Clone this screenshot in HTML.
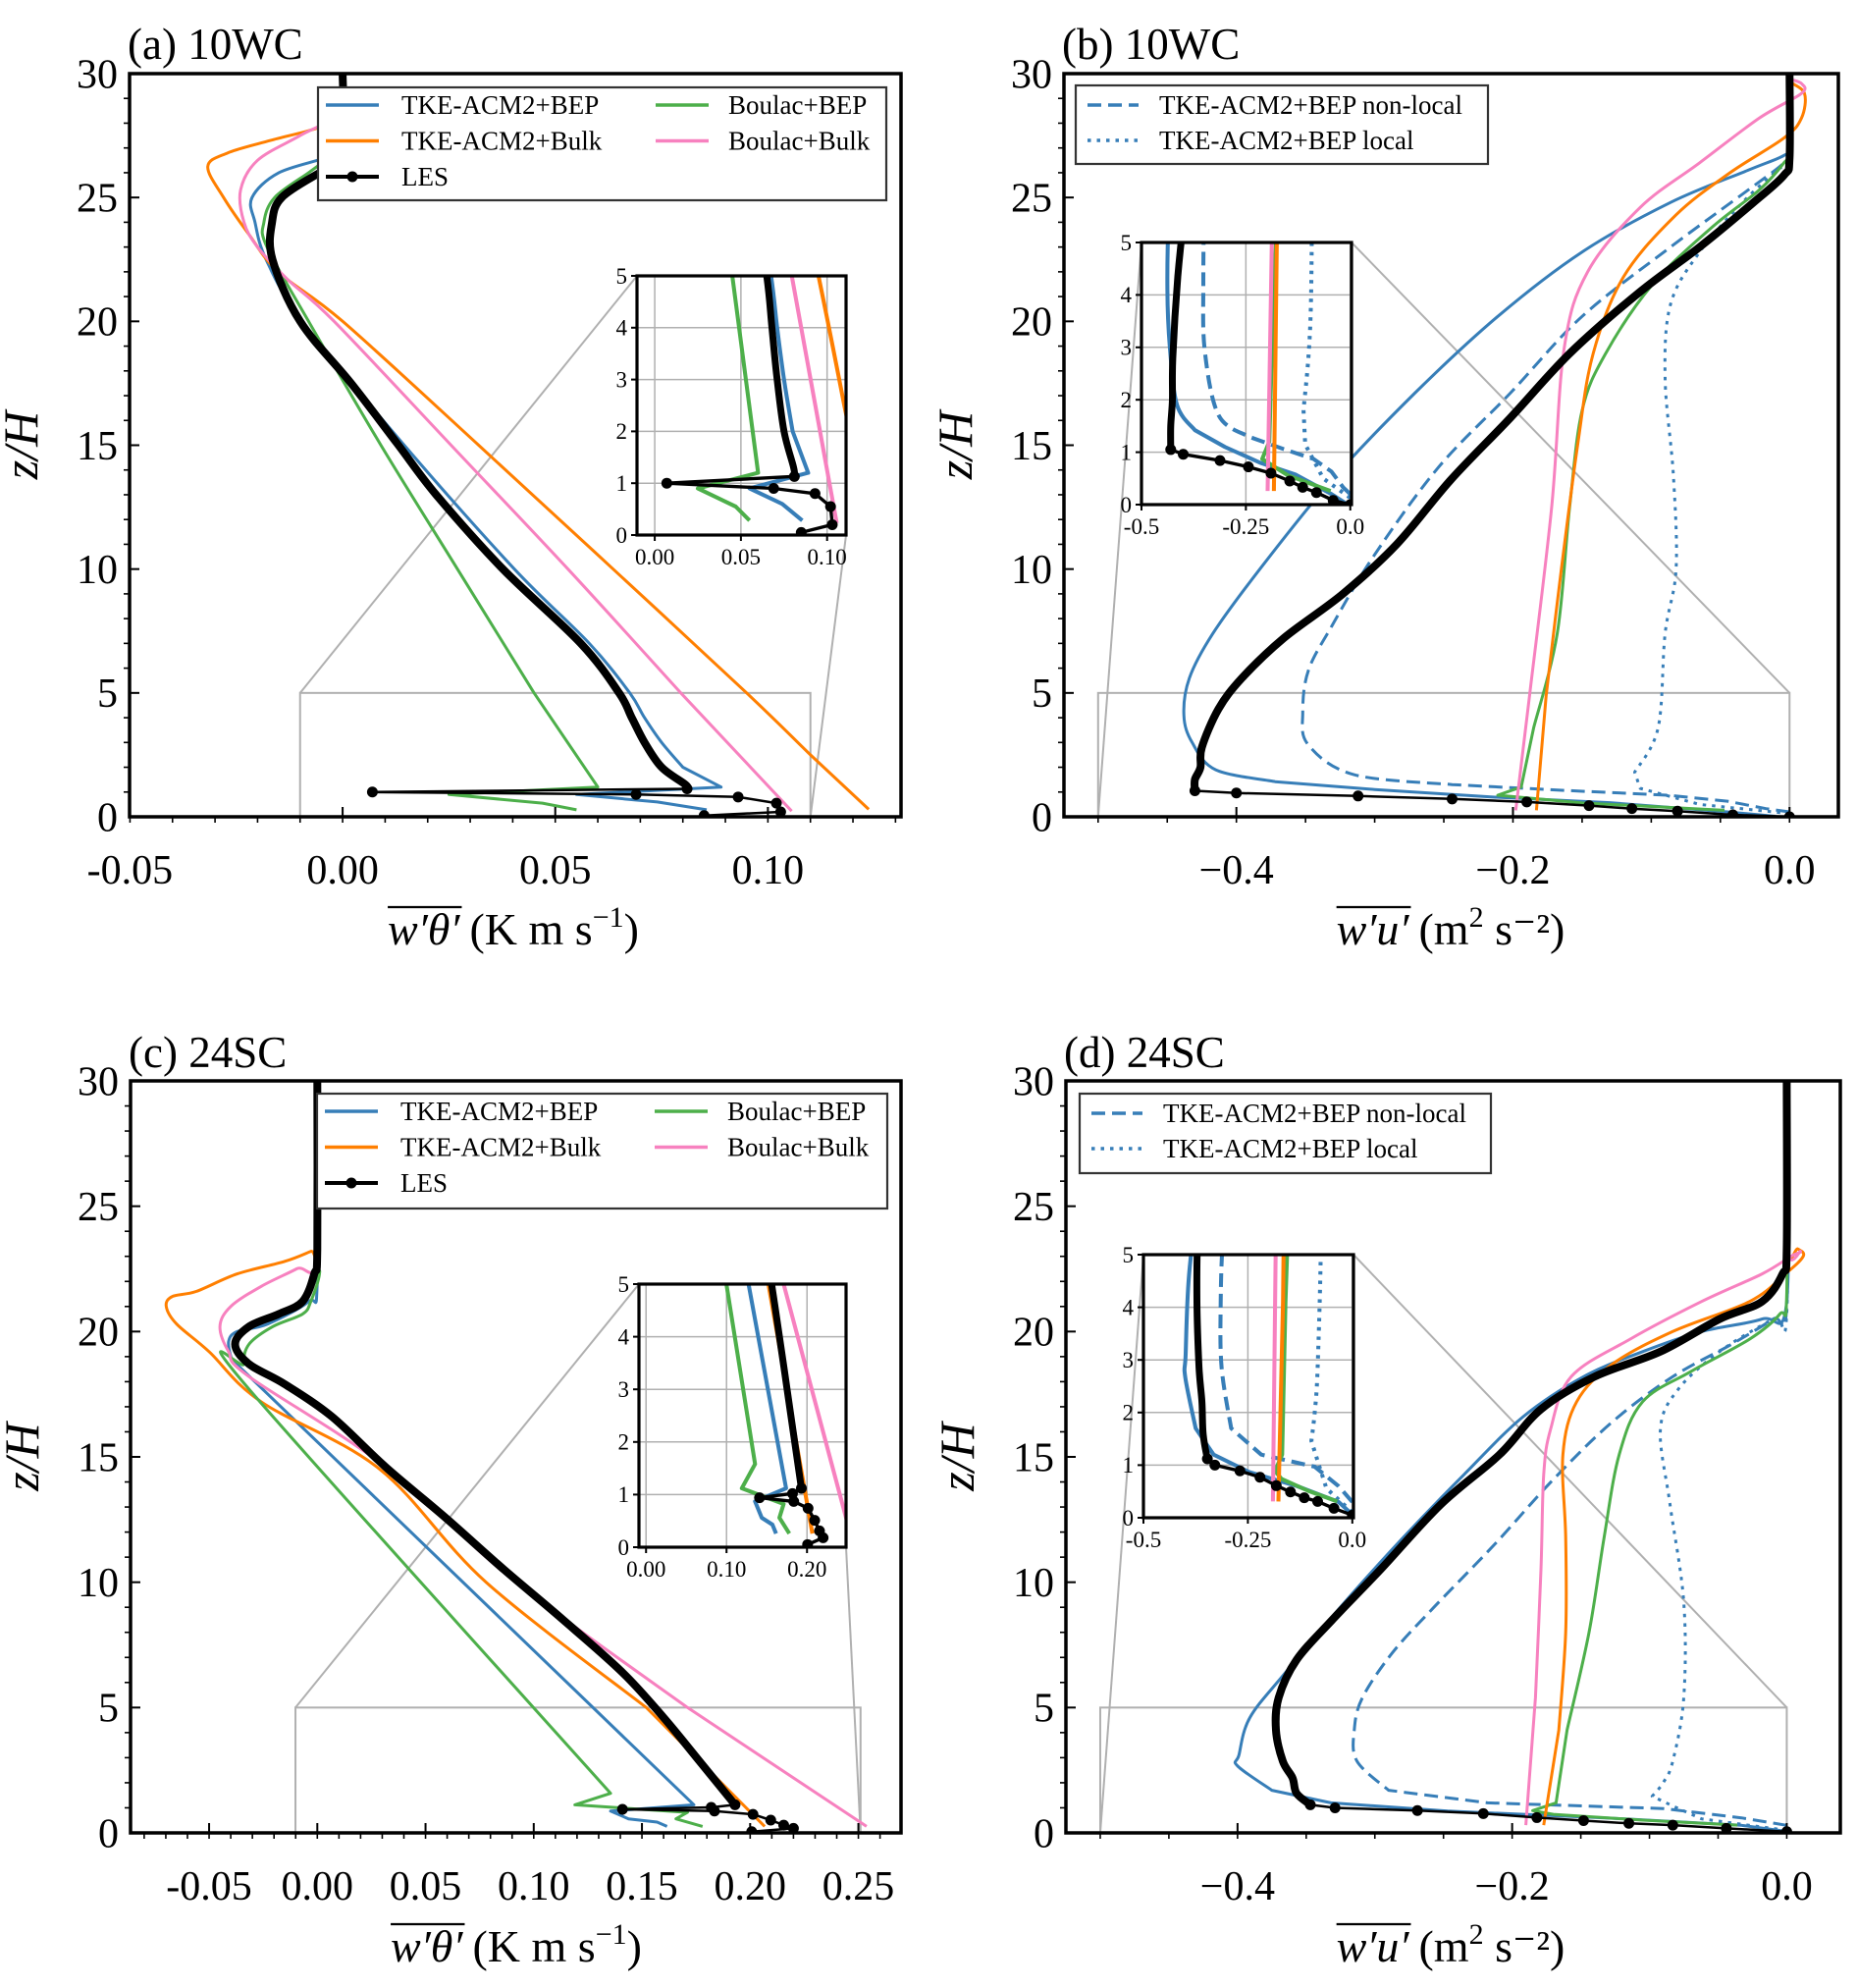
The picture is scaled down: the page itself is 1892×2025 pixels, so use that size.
<!DOCTYPE html>
<html><head><meta charset="utf-8"><style>
html,body{margin:0;padding:0;background:#fff;}
svg{display:block;font-family:"Liberation Serif",serif;}
</style></head><body>
<svg id="fig" xmlns="http://www.w3.org/2000/svg" width="1892" height="2025" viewBox="0 0 1892 2025">
<rect x="0" y="0" width="1892" height="2025" fill="#fff"/>
</svg>
<script>
// ---------- Panel (a) 10WC heat flux ----------
const aLesZ=[0.05,0.2,0.55,0.8,0.9,1.0,1.13,1.3,2,3,4,5,7,10,13,15.1,17.5,20,22.5,24,25,26,26.5,30];
const aLesX=[0.085,0.103,0.102,0.093,0.069,0.007,0.081,0.0806,0.075,0.071,0.068,0.065,0.056,0.0377,0.022,0.0127,0.002,-0.010,-0.0165,-0.0166,-0.0143,-0.0054,0,0];
const aBlueZ=[0.28,0.6,0.9,1.2,2,3,4,5,7,10,15.1,20,22.5,24,25,26,26.7,27.3,30];
const aBlueX=[0.0856,0.074,0.055,0.089,0.080,0.075,0.071,0.0675,0.058,0.0404,0.014,-0.0095,-0.018,-0.0206,-0.0213,-0.015,-0.0026,0,0];
const aOrangeZ=[0.3,2.5,5,10,15,20,21.97,23.5,25,26.25,26.8,27.3,27.8,28.3,30];
const aOrangeX=[0.1237,0.110,0.095,0.0636,0.032,0.0,-0.015,-0.022,-0.028,-0.0317,-0.027,-0.017,-0.006,0,0];
const aPinkZ=[0.23,5,10,15,20,21.7,23,24,25.3,26.5,27.5,28.5,30];
const aPinkX=[0.1056,0.0795,0.053,0.0255,-0.002,-0.013,-0.020,-0.0232,-0.024,-0.020,-0.010,0,0];
const aGreenZ=[0.28,0.55,0.9,1.2,5,10,15,20,23,24,25,26,26.5,27,30];
const aGreenX=[0.055,0.047,0.025,0.060,0.045,0.027,0.009,-0.008,-0.0178,-0.0185,-0.016,-0.008,-0.004,0,0];
// ---------- Panel (b) 10WC momentum flux ----------
const bLesZ=[0,0.08,0.23,0.33,0.45,0.6,0.72,0.84,0.96,1.05,1.5,2,2.8,4.35,5.6,7.2,9,11,13.6,16.1,18.7,21.2,23,24.8,25.9,26.6,30];
const bLesX=[0,-0.041,-0.081,-0.114,-0.145,-0.19,-0.244,-0.312,-0.40,-0.43,-0.43,-0.426,-0.425,-0.413,-0.396,-0.366,-0.323,-0.284,-0.245,-0.202,-0.159,-0.108,-0.065,-0.026,-0.004,0,0];
const bBlueZ=[0.02,0.2,0.57,0.8,1.1,1.42,1.9,3,4.1,5.6,7.4,10,13.6,17.1,20.2,22.8,24.8,26.1,26.7,27.1,30];
const bBlueX=[-0.01,-0.045,-0.13,-0.216,-0.30,-0.372,-0.415,-0.432,-0.438,-0.434,-0.417,-0.383,-0.331,-0.271,-0.211,-0.15,-0.086,-0.03,-0.004,0,0];
const bNonlocalZ=[0.2,0.33,0.63,0.87,1.06,1.3,1.7,2.9,4.2,5.9,7.7,10.5,14.1,17.1,20.2,23,25.3,26.4,26.9,30];
const bNonlocalX=[0,-0.017,-0.045,-0.088,-0.16,-0.244,-0.315,-0.348,-0.352,-0.348,-0.331,-0.301,-0.254,-0.202,-0.15,-0.086,-0.03,-0.004,0,0];
const bLocalZ=[0.13,0.5,1.15,1.8,3.6,7.4,10,13.8,17.7,20.7,22.8,24.8,26.1,26.6,30];
const bLocalX=[0,-0.065,-0.108,-0.112,-0.095,-0.09,-0.082,-0.084,-0.09,-0.086,-0.065,-0.034,-0.009,0,0];
const bGreenZ=[0.26,0.56,0.87,1.2,3.6,7.4,12.5,16.4,18.7,21.5,23.8,25.3,26.4,26.9,30];
const bGreenX=[-0.047,-0.15,-0.211,-0.194,-0.185,-0.168,-0.159,-0.15,-0.133,-0.099,-0.056,-0.022,-0.004,0,0];
const bOrangeZ=[0.26,4.9,10,15.1,18.7,21.8,24.3,26,27.4,28.2,29.2,29.7,30];
const bOrangeX=[-0.183,-0.176,-0.165,-0.153,-0.142,-0.12,-0.082,-0.043,-0.004,0.0086,0.0108,0,0];
const bPinkZ=[0.26,4.9,12.5,18.9,22,24.6,26.4,28.2,29.2,29.6,29.8,30];
const bPinkX=[-0.198,-0.188,-0.172,-0.163,-0.146,-0.108,-0.065,-0.022,0.0086,0.0086,0,0];
// ---------- Panel (c) 24SC heat flux ----------
const cLesZ=[0.05,0.18,0.31,0.51,0.74,0.87,0.94,1.02,1.12,2.86,4.6,6.4,8.5,10.5,12.6,14.6,16.6,17.9,18.7,19.5,20.2,20.7,21.2,22.3,23.3,30];
const cLesX=[0.2007,0.22,0.2155,0.2095,0.2013,0.1835,0.141,0.182,0.193,0.1766,0.16,0.141,0.1136,0.0863,0.0589,0.0315,0.0068,-0.015,-0.0315,-0.038,-0.0315,-0.0178,-0.0068,-0.0014,0,0];
const cBlueZ=[0.26,0.43,0.56,0.87,1.12,18.9,19.6,20.0,20.3,21.2,22,30];
const cBlueX=[0.1616,0.157,0.1438,0.1355,0.174,-0.0397,-0.041,-0.037,-0.023,-0.004,0,0];
const cOrangeZ=[0.26,5,10,14.5,17.2,19.2,20.3,21,21.4,21.6,22.3,22.8,23.2,23.3,30];
const cOrangeX=[0.2067,0.152,0.078,0.029,-0.026,-0.05,-0.065,-0.0698,-0.067,-0.056,-0.037,-0.015,-0.003,0,0];
const cPinkZ=[0.26,5,10,14.6,18.2,19.2,20.2,21,21.8,22.5,23,30];
const cPinkX=[0.2538,0.171,0.0917,0.0315,-0.0315,-0.041,-0.045,-0.04,-0.026,-0.0096,0,0];
const cGreenZ=[0.26,0.56,0.82,1.12,1.58,17.7,18.7,19.5,20.2,20.7,21.2,22.3,23.3,30];
const cGreenX=[0.178,0.1657,0.171,0.119,0.1355,-0.0315,-0.034,-0.0315,-0.0205,-0.0068,-0.003,0.001,0,0];
// ---------- Panel (d) 24SC momentum flux ----------
const dLesZ=[0.05,0.18,0.31,0.38,0.49,0.61,0.77,0.89,1.0,1.12,1.58,2.2,2.86,4.1,5.4,6.9,8.5,10.5,13.1,15.1,16.9,18.2,19.2,20.5,21.2,22.3,23.3,30];
const dLesX=[0,-0.044,-0.083,-0.115,-0.148,-0.182,-0.221,-0.269,-0.329,-0.347,-0.357,-0.36,-0.367,-0.372,-0.37,-0.357,-0.331,-0.296,-0.252,-0.209,-0.179,-0.14,-0.092,-0.049,-0.018,-0.003,0,0];
const dBlueZ=[0.06,0.3,0.6,0.87,1.2,1.7,2.67,3.1,4.6,6.4,9.2,11.8,14.3,16.6,18.2,19.2,20.0,20.5,21.2,30];
const dBlueX=[0,-0.033,-0.132,-0.247,-0.332,-0.375,-0.4,-0.399,-0.391,-0.365,-0.322,-0.279,-0.235,-0.192,-0.148,-0.105,-0.062,-0.018,0,0];
const dNonlocalZ=[0.3,0.6,0.97,1.2,1.7,2.86,4.1,5.4,7.2,9.0,11.5,14.1,16.4,18.2,19.5,20.5,21,30];
const dNonlocalX=[0,-0.033,-0.09,-0.218,-0.29,-0.313,-0.315,-0.309,-0.287,-0.257,-0.213,-0.17,-0.127,-0.083,-0.04,-0.01,0,0];
const dLocalZ=[0.1,0.56,1.0,1.46,2.0,2.86,5.4,9.2,13.1,16.1,17.7,19.2,20.5,20.7,30];
const dLocalX=[0,-0.062,-0.08,-0.098,-0.09,-0.083,-0.075,-0.075,-0.085,-0.092,-0.079,-0.049,-0.01,0,0];
const dGreenZ=[0.31,0.51,0.74,0.89,1.2,4.1,8.0,11.8,15.1,17.2,18.4,19.7,20.7,21.5,30];
const dGreenX=[-0.036,-0.105,-0.17,-0.185,-0.168,-0.16,-0.144,-0.133,-0.122,-0.105,-0.07,-0.027,-0.005,0,0];
const dOrangeZ=[0.31,4.1,8.0,11.8,15.1,17.2,18.7,20.0,21.2,22.3,23.0,23.3,23.4,30];
const dOrangeX=[-0.177,-0.166,-0.161,-0.161,-0.163,-0.153,-0.127,-0.083,-0.027,-0.001,0.012,0.008,0,0];
const dPinkZ=[0.31,5.4,10.5,14.3,16.1,18.2,19.7,21.2,22.3,23.0,23.2,23.4,30];
const dPinkX=[-0.19,-0.183,-0.179,-0.177,-0.172,-0.157,-0.114,-0.062,-0.018,0.003,0.01,0,0];
// ---------- tick labels ----------
const aTickVals=[-0.05,0,0.05,0.10];
const aTickLabels=["-0.05","0.00","0.05","0.10"];
const cTickVals=[-0.05,0,0.05,0.10,0.15,0.20,0.25];
const cTickLabels=["-0.05","0.00","0.05","0.10","0.15","0.20","0.25"];
const bdTickVals=[-0.4,-0.2,0.0];
const bdTickLabels=["\u22120.4","\u22120.2","0.0"];
const zTickVals=[0,5,10,15,20,25,30];
const zTickLabels=["0","5","10","15","20","25","30"];
const inAVals=[0,0.05,0.10], inALabels=["0.00","0.05","0.10"];
const inCVals=[0,0.10,0.20], inCLabels=["0.00","0.10","0.20"];
const inBDVals=[-0.5,-0.25,0.0], inBDLabels=["-0.5","-0.25","0.0"];
const inZVals=[0,1,2,3,4,5], inZLabels=["0","1","2","3","4","5"];

const C={blue:"#377eb8",orange:"#ff7f00",green:"#4daf4a",pink:"#f781bf",black:"#000"};
const NS="http://www.w3.org/2000/svg";
const svg=document.getElementById('fig');
function el(tag,attrs,parent){const e=document.createElementNS(NS,tag);for(const k in attrs)e.setAttribute(k,attrs[k]);(parent||svg).appendChild(e);return e;}
let clipN=0;
function makeAx(L,R,T,B,x0,x1,z0,z1){
  return {L,R,T,B,sx:v=>L+(v-x0)/(x1-x0)*(R-L),sz:z=>B-(z-z0)/(z1-z0)*(B-T)};
}
function clipFor(ax){
  const id='clip'+(clipN++);
  const cp=el('clipPath',{id});
  el('rect',{x:ax.L,y:ax.T,width:ax.R-ax.L,height:ax.B-ax.T},cp);
  return id;
}
// smooth path: cubic (Catmull-Rom) between points with z>=ZS, straight otherwise
const ZS=1.3;
function smoothPath(P,Z){
  let d='M'+P[0][0].toFixed(1)+','+P[0][1].toFixed(1);
  for(let i=0;i<P.length-1;i++){
    const a=P[i],b=P[i+1];
    if(Z[i]>=ZS&&Z[i+1]>=ZS){
      const p0=(i>0&&Z[i-1]>=ZS)?P[i-1]:a;
      const p3=(i+2<P.length)?P[i+2]:b;
      const c1=[a[0]+(b[0]-p0[0])/6,a[1]+(b[1]-p0[1])/6];
      const c2=[b[0]-(p3[0]-a[0])/6,b[1]-(p3[1]-a[1])/6];
      d+=' C'+c1[0].toFixed(1)+','+c1[1].toFixed(1)+' '+c2[0].toFixed(1)+','+c2[1].toFixed(1)+' '+b[0].toFixed(1)+','+b[1].toFixed(1);
    } else d+=' L'+b[0].toFixed(1)+','+b[1].toFixed(1);
  }
  return d;
}
function drawSeries(ax,g,X,Z,color,w,dash,name,isLes,thick){
  const P=X.map((v,i)=>[ax.sx(v),ax.sz(Z[i])]);
  const p=el('path',{d:smoothPath(P,Z),fill:'none',stroke:color,'stroke-width':w,'stroke-linejoin':'round'},g);
  if(dash)p.setAttribute('stroke-dasharray',dash);
  
  
  if(isLes){
    const UP=[],UZ=[];X.forEach((v,i)=>{if(Z[i]>=1.05){UP.push(P[i]);UZ.push(Z[i]);}});
    const t=el('path',{d:smoothPath(UP,UZ.map(z=>z<ZS?ZS:z)),fill:'none',stroke:'#000','stroke-width':thick,'stroke-linejoin':'round','stroke-linecap':'round'},g);
    
    
    X.forEach((v,i)=>{if(Z[i]<1.2){const c=el('circle',{cx:ax.sx(v),cy:ax.sz(Z[i]),r:5.5,fill:'#000'},g);
      
      }});
  }
}
function drawAll(ax,series,scale){
  const g=el('g',{'clip-path':'url(#'+clipFor(ax)+')'});
  
  
  series.forEach(s=>drawSeries(ax,g,s.x,s.z,s.c,s.w*scale,s.d,s.n,s.les,s.les?(scale>1?7:8):0));
}
function frame(ax,w,name){
  const r=el('rect',{x:ax.L,y:ax.T,width:ax.R-ax.L,height:ax.B-ax.T,fill:'none',stroke:'#000','stroke-width':w});
  
  
}
function ticks(ax,xv,xl,xminor,fs,labY,isInset){
  xv.forEach((v,i)=>{
    const x=ax.sx(v);
    el('line',{x1:x,x2:x,y1:ax.B,y2:ax.B-(isInset?0:10),stroke:'#000','stroke-width':2});
    if(isInset) el('line',{x1:x,x2:x,y1:ax.B,y2:ax.B+6,stroke:'#000','stroke-width':2});
    const t=el('text',{x:x,y:labY,'font-size':fs,'text-anchor':'middle',fill:'#000'});
    t.textContent=xl[i];
    
    
  });
  if(xminor) xminor.forEach(v=>{const x=ax.sx(v);el('line',{x1:x,x2:x,y1:ax.B,y2:ax.B+6,stroke:'#000','stroke-width':1.6});});
}
function zticks(ax,zv,zl,fs,isInset,minor){
  zv.forEach((v,i)=>{
    const y=ax.sz(v);
    if(isInset) el('line',{x1:ax.L-6,x2:ax.L,y1:y,y2:y,stroke:'#000','stroke-width':2});
    else el('line',{x1:ax.L,x2:ax.L+10,y1:y,y2:y,stroke:'#000','stroke-width':2});
    const t=el('text',{x:ax.L-(isInset?10:12),y:y+fs*0.34,'font-size':fs,'text-anchor':'end',fill:'#000'});
    t.textContent=zl[i];
    
    
  });
  if(minor) for(let z=0;z<=30;z++){ if(z%5){const y=ax.sz(z);el('line',{x1:ax.L-6,x2:ax.L,y1:y,y2:y,stroke:'#000','stroke-width':1.6});}}
}
function grid(ax,xv,zv){
  xv.forEach(v=>el('line',{x1:ax.sx(v),x2:ax.sx(v),y1:ax.T,y2:ax.B,stroke:'#b0b0b0','stroke-width':1.5}));
  zv.forEach(v=>el('line',{x1:ax.L,x2:ax.R,y1:ax.sz(v),y2:ax.sz(v),stroke:'#b0b0b0','stroke-width':1.5}));
}
function range(a,b,s){const r=[];for(let v=a;v<=b+1e-9;v+=s)r.push(+v.toFixed(4));return r;}
function textAt(x,y,fs,str,name,extra){
  const t=el('text',Object.assign({x,y,'font-size':fs,fill:'#000'},extra||{}));
  t.textContent=str;
  
  
  return t;
}
function xlabel(cx,cy,sym,unitMain,sup,tail,name){
  const g=el('g',{});
  
  
  const t1=el('text',{x:0,y:cy,'font-size':46,'font-style':'italic'},g);t1.textContent=sym;
  const w1=t1.getComputedTextLength();
  el('line',{x1:0,x2:w1+2,y1:cy-38,y2:cy-38,stroke:'#000','stroke-width':2.2},g);
  const t2=el('text',{x:w1+10,y:cy,'font-size':46},g);
  t2.appendChild(document.createTextNode(unitMain));
  const s=el('tspan',{dy:-18,'font-size':30},t2);s.textContent=sup;
  const s2=el('tspan',{dy:18,'font-size':46},t2);s2.textContent=tail;
  const w=w1+10+t2.getComputedTextLength();
  g.setAttribute('transform','translate('+(cx-w/2)+',0)');
}
function ylabel(cx,cy){
  const t=el('text',{x:0,y:0,'font-size':50,'font-style':'italic','text-anchor':'middle',transform:'translate('+(cx+16)+','+cy+') rotate(-90)'});
  t.textContent='z/H';
  
  
}
function legendHeat(bx,by,bw,bh,dy){
  const g=el('g',{});
  
  
  el('rect',{x:bx,y:by,width:bw,height:bh,fill:'#fff',stroke:'#333','stroke-width':2.2},g);
  const items=[[C.blue,'TKE-ACM2+BEP',0,0],[C.orange,'TKE-ACM2+Bulk',0,1],[C.black,'LES',0,2],[C.green,'Boulac+BEP',1,0],[C.pink,'Boulac+Bulk',1,1]];
  items.forEach(it=>{
    const hx=it[2]?bx+344:bx+8, tx=it[2]?bx+418:bx+85, y=by+18+it[3]*dy;
    const e=el('g',{},g);
    
    
    el('line',{x1:hx,x2:hx+54,y1:y,y2:y,stroke:it[0],'stroke-width':it[0]===C.black?4:3.5},e);
    if(it[0]===C.black)el('circle',{cx:hx+27,cy:y,r:5.5,fill:'#000'},e);
    const t=el('text',{x:tx,y:y+9,'font-size':27},e);t.textContent=it[1];
  });
}
function legendFlux(bx,by,bw,bh,dy){
  const g=el('g',{});
  
  
  el('rect',{x:bx,y:by,width:bw,height:bh,fill:'#fff',stroke:'#333','stroke-width':2.2},g);
  [['14 7','TKE-ACM2+BEP non-local'],['3.5 6','TKE-ACM2+BEP local']].forEach((it,i)=>{
    const y=by+20+i*dy;
    const e=el('g',{},g);
    
    
    el('line',{x1:bx+12,x2:bx+64,y1:y,y2:y,stroke:C.blue,'stroke-width':3.5,'stroke-dasharray':it[0]},e);
    const t=el('text',{x:bx+85,y:y+9,'font-size':27},e);t.textContent=it[1];
  });
}
function connector(p1,p2){el('line',{x1:p1[0],y1:p1[1],x2:p2[0],y2:p2[1],stroke:'#b0b0b0','stroke-width':2});}

function heatSeries(les,bl,bx,or,ox,pk,px,gr,gx){return [
  {x:bx,z:bl,c:C.blue,w:3,n:'tke-acm2-bep-line'},
  {x:ox,z:or,c:C.orange,w:3,n:'tke-acm2-bulk-line'},
  {x:gx,z:gr,c:C.green,w:3,n:'boulac-bep-line'},
  {x:px,z:pk,c:C.pink,w:3,n:'boulac-bulk-line'},
  {x:les[1],z:les[0],c:'#000',w:2.5,n:'les-line',les:true}];}

function buildPanel(P){
  const ax=makeAx(P.L,P.R,P.T,P.B,P.x0,P.x1,0,30);
  const ia=makeAx(P.iL,P.iR,P.iT,P.iB,P.ix0,P.ix1,0,5);
  const bx0=ax.sx(P.box[0]),bx1=ax.sx(P.box[1]),by0=ax.sz(5),by1=ax.sz(0);
  const zb=el('rect',{x:bx0,y:by0,width:bx1-bx0,height:by1-by0,fill:'none',stroke:'#b0b0b0','stroke-width':2});
  
  
  if(P.heat){connector([bx0,by0],[ia.L,ia.T]);connector([bx1,by1],[ia.R,ia.B]);}
  else{connector([bx0,by1],[ia.L,ia.T]);connector([bx1,by0],[ia.R,ia.T]);}
  drawAll(ax,P.series,1);
  frame(ax,3.5,'axes-frame');
  ticks(ax,P.tv,P.tl,P.minor,42,P.B+68,false);
  zticks(ax,zTickVals,zTickLabels,42,false,true);
  const ib=el('rect',{x:ia.L,y:ia.T,width:ia.R-ia.L,height:ia.B-ia.T,fill:'#fff'});
  
  
  grid(ia,P.iv,inZVals);
  drawAll(ia,P.series,1.35);
  frame(ia,3.2,'inset-frame');
  ticks(ia,P.iv,P.il,null,23,ia.B+30,true);
  zticks(ia,inZVals,inZLabels,23,true,false);
  textAt(P.L-2,P.titleY,45,P.title,'panel-title');
  ylabel(P.L-110,(P.T+P.B)/2);
}

const aSeries=heatSeries([aLesZ,aLesX],aBlueZ,aBlueX,aOrangeZ,aOrangeX,aPinkZ,aPinkX,aGreenZ,aGreenX);
const cSeries=heatSeries([cLesZ,cLesX],cBlueZ,cBlueX,cOrangeZ,cOrangeX,cPinkZ,cPinkX,cGreenZ,cGreenX);
function fluxSeries(L,B,N,Lo,G,O,P){return [
  {x:B[1],z:B[0],c:C.blue,w:3,n:'tke-acm2-bep-line'},
  {x:N[1],z:N[0],c:C.blue,w:3,d:'14 7',n:'tke-acm2-bep-nonlocal-line'},
  {x:Lo[1],z:Lo[0],c:C.blue,w:3,d:'3.5 6',n:'tke-acm2-bep-local-line'},
  {x:G[1],z:G[0],c:C.green,w:3,n:'boulac-bep-line'},
  {x:O[1],z:O[0],c:C.orange,w:3,n:'tke-acm2-bulk-line'},
  {x:P[1],z:P[0],c:C.pink,w:3,n:'boulac-bulk-line'},
  {x:L[1],z:L[0],c:'#000',w:2.5,n:'les-line',les:true}];}
const bSeries=fluxSeries([bLesZ,bLesX],[bBlueZ,bBlueX],[bNonlocalZ,bNonlocalX],[bLocalZ,bLocalX],[bGreenZ,bGreenX],[bOrangeZ,bOrangeX],[bPinkZ,bPinkX]);
const dSeries=fluxSeries([dLesZ,dLesX],[dBlueZ,dBlueX],[dNonlocalZ,dNonlocalX],[dLocalZ,dLocalX],[dGreenZ,dGreenX],[dOrangeZ,dOrangeX],[dPinkZ,dPinkX]);

buildPanel({L:132,R:918,T:75,B:832,x0:-0.0501,x1:0.1313,iL:649,iR:862,iT:281,iB:545,ix0:-0.0103,ix1:0.111,
  box:[-0.01,0.11],heat:true,series:aSeries,tv:aTickVals,tl:aTickLabels,minor:range(-0.05,0.13,0.01),iv:inAVals,il:inALabels,title:'(a) 10WC',titleY:60});
buildPanel({L:1084,R:1873,T:75,B:832,x0:-0.5247,x1:0.0353,iL:1163,iR:1377,iT:247,iB:514,ix0:-0.5,ix1:0.003,
  box:[-0.5,0],heat:false,series:bSeries,tv:bdTickVals,tl:bdTickLabels,minor:range(-0.5,0,0.05),iv:inBDVals,il:inBDLabels,title:'(b) 10WC',titleY:60});
buildPanel({L:133,R:918,T:1101,B:1867,x0:-0.0863,x1:0.2697,iL:651,iR:862,iT:1308,iB:1576,ix0:-0.0088,ix1:0.2485,
  box:[-0.0101,0.251],heat:true,series:cSeries,tv:cTickVals,tl:cTickLabels,minor:range(-0.08,0.26,0.01),iv:inCVals,il:inCLabels,title:'(c) 24SC',titleY:1087});
buildPanel({L:1086,R:1875,T:1101,B:1867,x0:-0.525,x1:0.039,iL:1165,iR:1379,iT:1278,iB:1546,ix0:-0.5,ix1:0.0028,
  box:[-0.5,0],heat:false,series:dSeries,tv:bdTickVals,tl:bdTickLabels,minor:range(-0.5,0,0.05),iv:inBDVals,il:inBDLabels,title:'(d) 24SC',titleY:1087});

legendHeat(324,89,579,115,36.5);
legendHeat(323,1114,581,117,36.5);
legendFlux(1096,87,420,80,36);
legendFlux(1100,1114,419,81,36);

xlabel(523,962,"w\u2032\u03b8\u2032","(K m s","\u22121",")",'x-axis-title');
xlabel(1478,962,"w\u2032u\u2032","(m","2"," s\u207b\u00b2)",'x-axis-title');
xlabel(526,1998,"w\u2032\u03b8\u2032","(K m s","\u22121",")",'x-axis-title');
xlabel(1478,1998,"w\u2032u\u2032","(m","2"," s\u207b\u00b2)",'x-axis-title');
</script>
</body></html>
